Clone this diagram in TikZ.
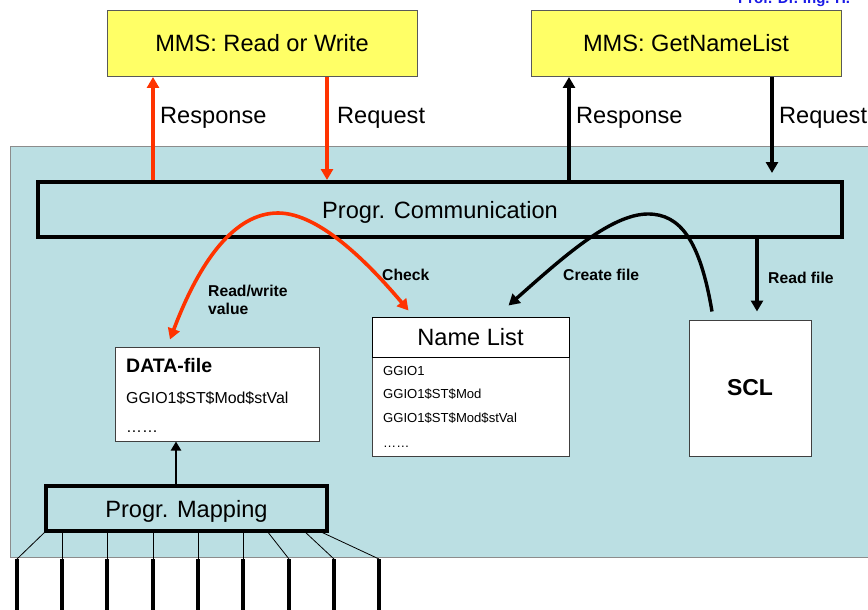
\documentclass[tikz,border=0pt]{standalone}
\usepackage{fontspec}
\setmainfont{Liberation Sans}
\usetikzlibrary{arrows.meta}
\definecolor{panel}{HTML}{BBDFE3}
\definecolor{mmsyellow}{HTML}{FFFF66}
\definecolor{flowred}{HTML}{FF3300}
\definecolor{authorblue}{HTML}{1A1AE6}
\newcommand{\fsz}[1]{\fontsize{#1}{#1}\selectfont}
\tikzset{
  mms/.style={draw=black!65, line width=1pt, fill=mmsyellow, minimum width=310pt, minimum height=66pt, inner sep=0pt, font=\fsz{23.6}},
  prog/.style={draw=black, line width=4pt, fill=panel, inner sep=0pt, text depth=0pt, font=\fsz{23.6}},
  filebox/.style={draw=black!75, line width=1pt, fill=white, inner sep=0pt},
  biglabel/.style={font=\fsz{23.6}, inner sep=0pt},
  smalllabel/.style={font=\bfseries\fsz{15.7}, inner sep=0pt},
  item/.style={font=\fsz{13.1}, inner sep=0pt, anchor=base west},
  redarrow/.style={draw=flowred, line width=3.6pt, -{Triangle[length=11pt, width=12pt]}},
  redline/.style={draw=flowred, line width=3.6pt},
  blackarrow/.style={draw=black, line width=3.4pt, -{Triangle[length=11pt, width=12pt]}},
  blackline/.style={draw=black, line width=3.4pt},
  wire/.style={draw=black, line width=0.8pt},
  lead/.style={draw=black, line width=3.6pt},
}
\begin{document}
\begin{tikzpicture}[x=1pt, y=-1pt]
\useasboundingbox (0,0) rectangle (868,610);

% author line in the header, cut by the page edge
\node[anchor=base west, inner sep=0pt, text=authorblue, font=\bfseries\fsz{15}] (author) at (738,4) {Prof. Dr.-Ing. H.};

% device panel
\draw[draw=black!45, line width=1pt, fill=panel] (10,146) rectangle (880,557);

% MMS services
\node[mms] (rw) at (262,43.5) {MMS: Read or Write};
\node[mms] (gnl) at (686,43.5) {MMS: GetNameList};

% program blocks
\node[prog, minimum width=804pt, minimum height=55pt] (comm) at (440,209.5) {Progr. Communication};
\node[prog, minimum width=281pt, minimum height=45pt] (map) at (186.5,508.5) {Progr. Mapping};

% files
\node[filebox, minimum width=204pt, minimum height=94pt] (data) at (217,394) {};
\node[font=\bfseries\fsz{19.5}, inner sep=0pt, anchor=base west] (datatitle) at (126,372) {DATA-file};
\node[font=\fsz{15.9}, inner sep=0pt, anchor=base west] (dataitem) at (126,403) {GGIO1\$ST\$Mod\$stVal};
\node[font=\fsz{15.9}, inner sep=0pt, anchor=base west] (datadots) at (126,432) {……};

\node[filebox, minimum width=197pt, minimum height=99pt] (nlbody) at (470.5,406.5) {};
\node[filebox, draw=black, minimum width=197pt, minimum height=40pt, font=\fsz{23.6}] (nlhead) at (470.5,337) {Name List};
\node[item] (nl1) at (383,375) {GGIO1};
\node[item] (nl2) at (383,398) {GGIO1\$ST\$Mod};
\node[item] (nl3) at (383,422) {GGIO1\$ST\$Mod\$stVal};
\node[item] (nl4) at (383,447) {……};

\node[filebox, minimum width=122pt, minimum height=136pt, font=\bfseries\fsz{23}] (scl) at (750,388) {SCL};

% x positions of the vertical links
\coordinate (xa) at (153,0);
\coordinate (xb) at (327,0);
\coordinate (xc) at (569,0);
\coordinate (xd) at (772,0);
\coordinate (xe) at (757,0);
\coordinate (xf) at (176,0);
\coordinate (xg) at (171,0);

% MMS links
\draw[redarrow] (comm.north -| xa) -- (rw.south -| xa);
\draw[redarrow] (rw.south -| xb) -- (comm.north -| xb);
\draw[blackarrow] (comm.north -| xc) -- (gnl.south -| xc);
\draw[blackarrow] (gnl.south -| xd) -- ([yshift=7pt]comm.north -| xd);
\node[biglabel, anchor=base west] (l1) at (160,124) {Response};
\node[biglabel, anchor=base west] (l2) at (337,124) {Request};
\node[biglabel, anchor=base west] (l3) at (576,124) {Response};
\node[biglabel, anchor=base west] (l4) at (779,124) {Request};

% read/write value and check
\coordinate (rtop) at (278,213);
\draw[redline, {Triangle[length=11pt, width=12pt]}-{Triangle[length=11pt, width=12pt]}]
  ([xshift=-1pt,yshift=7pt]data.north -| xg) .. controls (200,260) and (235,213) .. (rtop)
  .. controls (320,213) and (370,265) .. ([xshift=-62pt,yshift=6pt]nlhead.north);
\node[smalllabel, anchor=base west] (lcheck) at (382,280) {Check};
\node[smalllabel, anchor=base west] (lrw1) at (208,296) {Read/write};
\node[smalllabel, anchor=base west] (lrw2) at (208,314) {value};

% name list created from the SCL
\coordinate (btop) at (648,214);
\draw[blackline, -{Triangle[length=11pt, width=12pt]}]
  ([xshift=-38pt,yshift=8pt]scl.north) .. controls (700,240) and (680,214) .. (btop)
  .. controls (610,214) and (560,260) .. ([xshift=38pt,yshift=11pt]nlhead.north);
\node[smalllabel, anchor=base west] (lcreate) at (563,280) {Create file};

\draw[blackarrow] (comm.south -| xe) -- ([yshift=8pt]scl.north -| xe);
\node[smalllabel, anchor=base west] (lread) at (768,283) {Read file};

% mapping feeds the data file
\draw[blackline, line width=2.5pt, -{Triangle[length=9pt, width=10pt]}] (map.north -| xf) -- (data.south -| xf);

% field leads below the mapping block
\foreach \i/\s/\e in {1/46/17, 2/62/62, 3/107/107, 4/153/153, 5/198/198, 6/243/243, 7/267/289, 8/304/334, 9/319/379} {
  \coordinate (ws\i) at (\s,531);
  \coordinate (we\i) at (\e,559);
  \coordinate (wb\i) at (\e,615);
  \draw[wire] (ws\i) -- (we\i);
  \draw[lead] (we\i) -- (wb\i);
}
\end{tikzpicture}
\end{document}
